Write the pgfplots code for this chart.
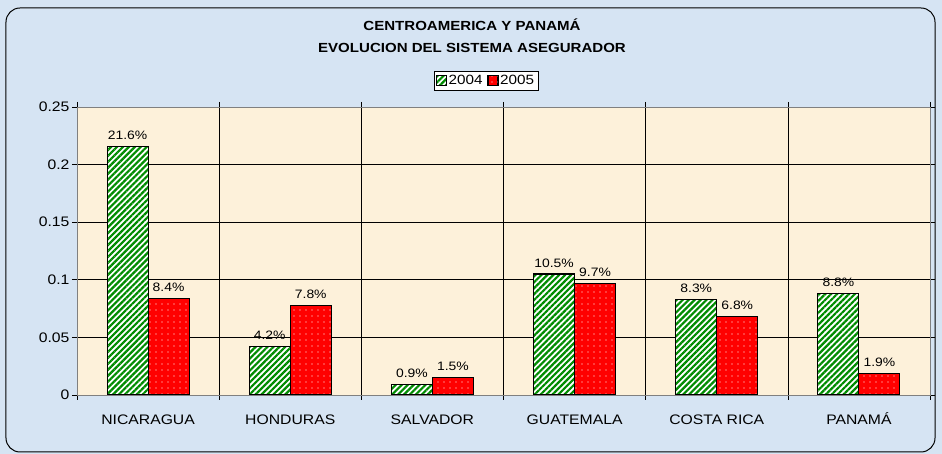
\documentclass[border=0pt]{standalone}
\usepackage{pgfplots}
\pgfplotsset{compat=1.18}
\usepackage{fontspec}
\setmainfont[FakeStretch=1.14]{Liberation Sans}
\usetikzlibrary{patterns.meta}
\definecolor{bgblue}{RGB}{214,228,243}
\definecolor{cream}{RGB}{253,241,218}
\definecolor{grn}{RGB}{0,140,0}
\definecolor{red5}{RGB}{255,0,0}
\pgfplotstableread{
x y
0 0.216
1 0.042
2 0.009
3 0.105
4 0.083
5 0.088
}\dataA
\pgfplotstableread{
x y
0 0.084
1 0.078
2 0.015
3 0.097
4 0.068
5 0.019
}\dataB
\begin{document}
\begin{tikzpicture}
\useasboundingbox (-77pt,-59pt) rectangle (865pt,395pt);
\fill[bgblue] (-77pt,-59pt) rectangle (865pt,395pt);
\draw[black, line width=1pt, rounded corners=14pt] (-71pt,-57pt) rectangle (858pt,387pt);
\node[font=\fontsize{13.2}{22}\selectfont\bfseries, align=center] at (395pt,359pt) {CENTROAMERICA Y PANAMÁ\\EVOLUCION DEL SISTEMA ASEGURADOR};
\begin{axis}[
  at={(0pt,0pt)}, anchor=south west,
  scale only axis, width=853pt, height=288pt,
  xmin=-0.5, xmax=5.5, ymin=0, ymax=0.25,
  axis background/.style={fill=cream},
  axis line style={draw=gray},
  ybar=0pt, bar width=41pt,
  tick align=outside,
  ytick={0,0.05,0.1,0.15,0.2,0.25},
  yticklabels={0,0.05,0.1,0.15,0.2,0.25},
  yticklabel style={xshift=1pt},
  ymajorgrids, xmajorgrids,
  grid style={black, line width=0.6pt},
  major tick length=5pt,
  tick style={black, line width=0.6pt},
  xtick={-0.5,0.5,...,5.5},
  xticklabels={},
  extra x ticks={0,1,2,3,4,5},
  extra x tick labels={NICARAGUA,HONDURAS,SALVADOR,GUATEMALA,COSTA RICA,PANAMÁ},
  extra x tick style={major tick length=0pt, grid=none, tick label style={yshift=-16pt, text height=10pt, text depth=0pt}},
  tick label style={font=\fontsize{13.8}{15}\selectfont},
  ticklabel style={text=black},
  point meta={y*100},
  nodes near coords={\pgfmathprintnumber[fixed,fixed zerofill,precision=1,assume math mode=true]{\pgfplotspointmeta}\%},
  nodes near coords style={font=\fontsize{12.2}{14}\selectfont, anchor=south, yshift=3pt},
  legend style={at={(0.4795,1.092)}, anchor=center, draw=black, fill=white,
    font=\fontsize{13.4}{15}\selectfont, legend columns=2, inner sep=2pt,
    /tikz/every even column/.append style={column sep=3pt}},
  legend image code/.code={\draw[#1,draw=black,line width=0.6pt] (0pt,-5pt) rectangle (10pt,5pt);},
]
\addplot[draw=black, line width=1.1pt, preaction={fill=white},
  pattern={Lines[angle=45,distance=4.2pt,line width=2.2pt]}, pattern color=grn] table[x=x,y=y] {\dataA};
\addplot[draw=black, line width=1.1pt, preaction={fill=red5},
  pattern={Dots[distance=6pt,radius=0.7pt]}, pattern color=white] table[x=x,y=y] {\dataB};
\legend{2004,2005}
\end{axis}
\end{tikzpicture}
\end{document}
